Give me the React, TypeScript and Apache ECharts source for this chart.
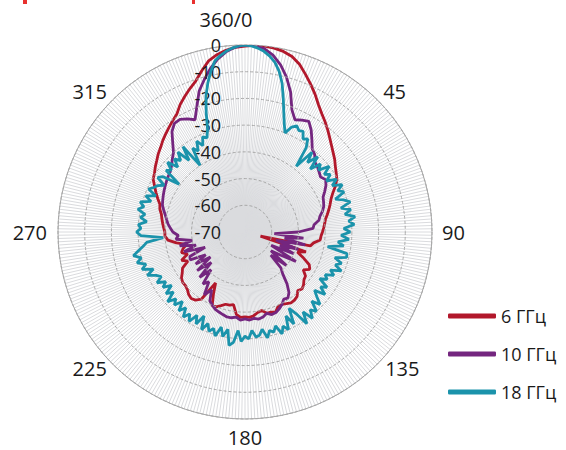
import React, { useEffect, useRef } from 'react';
import * as echarts from 'echarts';

const seriesNames = ['6 ГГц', '10 ГГц', '18 ГГц'];
const seriesColors = ['#B2182B', '#74267F', '#1B93AB'];
const angleTickLabels = ['360/0', '45', '90', '135', '180', '225', '270', '315'];
const radiusMin = -70;
const radiusMax = 0;
const radiusStep = 10;

// 6 GHz, sampled every 3 degrees starting at 0
const red6 = [
  -0.4, 0, 0, -0.3, -0.9, -2.0, -4.0, -6.8, -9.5, -12.2,
  -15, -17.2, -19, -20.8, -22.6, -24.2, -25.6, -26.8, -28.2, -29.3,
  -30.3, -32, -34, -35.5, -36.5, -37.5, -38.5, -39.5, -40, -40.5,
  -41, -41.5, -41.7, -44, -45, -64, -46, -49, -46, -43,
  -42, -44, -42, -41.6, -40.5, -39.8, -40.5, -39, -38.5, -38.4,
  -39, -39.6, -39.5, -38, -38.5, -38.5, -40, -39.5, -38.5, -38,
  -38.2, -38, -39, -42.5, -42, -42, -41, -40, -39.8, -44,
  -48, -40, -38.5, -38, -38.5, -39.5, -40, -40, -40.6, -42,
  -43, -46, -44, -47, -45, -46, -47.7, -44, -41, -40,
  -40, -39.5, -39, -38.5, -38, -37, -36.5, -35, -33.5, -32,
  -30.3, -29.6, -28.5, -27.5, -26.3, -25.3, -24, -22.8, -21.6, -20.3,
  -19, -16.5, -14.5, -12.5, -10.5, -7.5, -4.5, -2.8, -1.6, -0.8,
];

// 10 GHz, sampled every 3 degrees starting at 0
const purple10 = [
  0, -0.2, -1, -3, -6, -10, -14.8, -21, -24, -23,
  -22.2, -24.5, -27.4, -30, -31, -33, -33.5, -34.3, -35, -34,
  -35, -36.5, -38, -38.5, -39, -40, -41.3, -42, -44, -44.5,
  -50, -59, -48, -55, -47, -58, -49, -56, -50, -59,
  -48, -54, -58, -50, -57, -51, -48.9, -45, -42, -40.5,
  -41, -39.5, -38.5, -37.7, -37.5, -38.5, -37.5, -37, -37.5, -37,
  -37.5, -37, -38, -37.5, -37.5, -38, -38.5, -39, -40, -41,
  -45, -42, -47, -45, -51, -46, -53, -47, -54, -48,
  -53, -47, -47.4, -54, -46, -51, -45, -50, -44, -45,
  -43, -42, -41, -40.3, -39.5, -38.5, -37.5, -37, -36.5, -36,
  -35.5, -35, -34.5, -34, -33, -31.5, -30, -27, -23.5, -21.5,
  -21.3, -22.5, -24, -19.7, -14.5, -11, -7.5, -4.5, -2.2, -0.7,
];

// 18 GHz, sampled every 2 degrees starting at 0
const teal18 = [
  0, -0.3, -1, -2, -3.5, -5.5, -8.5, -12.6, -18, -23,
  -27, -30, -27, -25.8, -27, -26.5, -29, -28, -31, -38.8,
  -31, -35, -30.8, -36, -32, -34, -30, -33.3, -31.5, -34,
  -30.5, -33, -29.5, -32, -30, -34, -31.2, -29, -33, -29.5,
  -32, -28.4, -31, -29, -33, -30.6, -34, -31, -35, -32.7,
  -38.6, -31, -30.8, -35, -32, -34, -31.1, -35, -33, -36,
  -34.5, -37, -33, -35, -32, -36, -33.8, -31, -34, -30,
  -32, -29, -33, -28.6, -34, -37, -31, -35, -30, -32,
  -29.4, -33, -31, -32, -29.5, -33, -31, -30.5, -33, -30,
  -31, -29, -33, -28.5, -27.1, -33, -30, -33.3, -29.5, -32,
  -30.5, -33, -30, -35, -31, -34, -30.5, -33, -30.7, -34,
  -31.5, -35, -32, -34, -31, -35, -32.5, -36, -33, -35,
  -32, -34.5, -33, -30, -33, -29, -31, -28, -30, -27.3,
  -29.5, -31.5, -33, -39.3, -31, -29.4, -31, -30, -33, -30.5,
  -32, -29, -31, -29.2, -33, -30.5, -34, -30.5, -32, -33,
  -35, -31.5, -33, -39.5, -32.5, -34, -31, -35, -32, -34,
  -31, -36, -30.5, -39.9, -33, -35, -31.5, -34, -31, -32,
  -29, -23, -17, -12.5, -8.5, -5, -3.3, -2, -1, -0.3,
];

const seriesValues = [red6, purple10, teal18];
const seriesSteps = [3, 3, 2];

// per-label offsets of the angle tick labels: [top, right, bottom, left]
const angleLabelPadding = [
  [0, 38, 51, 0],
  [0, 0, 10, 13],
  [0, 0, 0, 20],
  [3, 0, 0, 15],
  [37, 0, 0, 0],
  [3, 13, 0, 0],
  [0, 21, 0, 0],
  [0, 13, 10, 0],
];

export default function App() {
  const ref = useRef<HTMLDivElement>(null);
  useEffect(() => {
    const chart = echarts.init(ref.current as HTMLDivElement, null, { renderer: 'svg' });
    const build = (vals: number[], step: number) => {
      const d = vals.map((v, i) => [v, i * step]);
      d.push([vals[0], 360]);
      return d;
    };
    const rich: Record<string, any> = {};
    angleLabelPadding.forEach((p, i) => {
      rich['a' + i] = {
        padding: p,
        fontSize: 20,
        lineHeight: 20,
        color: '#1a1a1a',
        fontFamily: 'Open Sans',
      };
    });
    chart.setOption({
      animation: false,
      backgroundColor: '#ffffff',
      polar: { center: [245, 232], radius: 187 },
      angleAxis: {
        type: 'value',
        min: 0,
        max: 360,
        interval: 1,
        startAngle: 90,
        clockwise: true,
        axisLine: { show: true, lineStyle: { color: '#a6a6a6', width: 1 } },
        axisTick: { show: false },
        axisLabel: {
          margin: -10,
          fontSize: 20,
          color: '#1a1a1a',
          fontFamily: 'Open Sans',
          rich,
          formatter: (v: number) =>
            v % 45 === 0 && v < 360 ? `{a${v / 45}|${angleTickLabels[v / 45]}}` : '',
        },
        splitLine: { show: true, lineStyle: { color: '#dadbde', width: 1 } },
      },
      radiusAxis: {
        type: 'value',
        min: radiusMin,
        max: radiusMax,
        interval: radiusStep,
        axisLine: { show: false },
        axisTick: { show: false },
        axisLabel: { fontSize: 18, color: '#1a1a1a', fontFamily: 'Open Sans', margin: 24 },
        splitLine: { show: true, lineStyle: { color: '#a8a8a8', type: [3, 2], width: 1 } },
        z: 5,
      },
      legend: {
        orient: 'vertical',
        left: 443,
        top: 302,
        itemWidth: 48,
        itemHeight: 5,
        itemGap: 20,
        icon: 'roundRect',
        textStyle: { fontSize: 18, fontFamily: 'Open Sans', color: '#1a1a1a' },
        data: seriesNames,
      },
      graphic: [
        { type: 'rect', shape: { x: 23, y: 0, width: 4, height: 4 }, style: { fill: '#e8312f' } },
        { type: 'rect', shape: { x: 192, y: 0, width: 3, height: 4 }, style: { fill: '#e8312f' } },
      ],
      series: seriesNames.map((name, k) => ({
        name,
        type: 'line',
        coordinateSystem: 'polar',
        symbol: 'none',
        color: seriesColors[k],
        lineStyle: { width: 2.8, color: seriesColors[k] },
        data: build(seriesValues[k], seriesSteps[k]),
        z: 3 + k,
      })),
    });
    return () => chart.dispose();
  }, []);
  return <div ref={ref} style={{ position: 'fixed', left: 0, top: 0, width: 566, height: 450 }} />;
}
